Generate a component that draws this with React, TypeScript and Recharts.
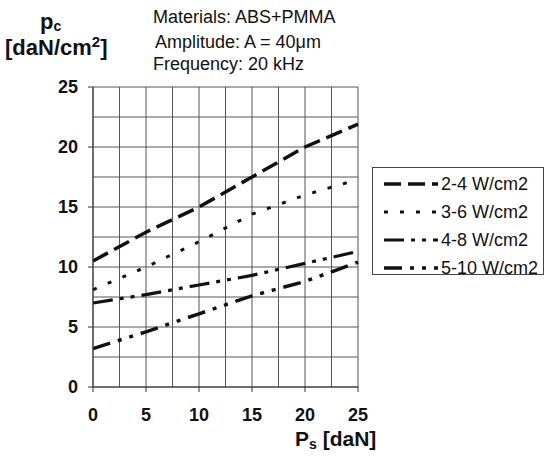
import React from "react";
import { LineChart, Line, XAxis, YAxis, CartesianGrid, ReferenceLine, Legend } from "recharts";

const xValues = [0, 5, 10, 15, 20, 25];
const s24 = [10.5, 12.9, 15.0, 17.5, 20.0, 21.9];
const s36 = [8.1, 10.0, 12.1, 14.4, 16.0, 17.3];
const s48 = [7.0, 7.7, 8.5, 9.3, 10.3, 11.3];
const s510 = [3.2, 4.6, 6.1, 7.6, 8.8, 10.4];
const seriesNames = ["2-4 W/cm2", "3-6 W/cm2", "4-8 W/cm2", "5-10 W/cm2"];
const majorTicks = [0, 5, 10, 15, 20, 25];
const minorTicks = [2.5, 7.5, 12.5, 17.5, 22.5];
const titleLines = ["Materials: ABS+PMMA", "Amplitude: A = 40\u03bcm", "Frequency: 20 kHz"];

const data = xValues.map((x, i) => ({ x, a: s24[i], b: s36[i], c: s48[i], d: s510[i] }));

const seriesDefs = [
  { key: "a", name: seriesNames[0], dash: "17 7", width: 3.5 },
  { key: "b", name: seriesNames[1], dash: "4 12", width: 3 },
  { key: "c", name: seriesNames[2], dash: "20 7 4 7 4 7", width: 3.2 },
  { key: "d", name: seriesNames[3], dash: "18 8 4 8 4 8", width: 3.5 },
];

const FONT = "'Liberation Sans', Arial, sans-serif";
const tickStyle = { fill: "#111", fontSize: 18, fontWeight: "bold" as const, fontFamily: FONT };
const GRID = "#555";

const LegendBox = () => (
  <div
    style={{
      width: 172,
      height: 108,
      border: "1px solid #444",
      boxSizing: "border-box",
      paddingTop: 2,
      background: "#fff",
      fontFamily: FONT,
    }}
  >
    {seriesDefs.map((s) => (
      <div key={s.key} style={{ height: 28, display: "flex", alignItems: "center" }}>
        <svg width={68} height={28} style={{ flex: "none" }}>
          <line x1={11} y1={14} x2={65} y2={14} stroke="#111" strokeWidth={s.width} strokeDasharray={s.dash} />
        </svg>
        <span style={{ fontSize: 18, color: "#111", whiteSpace: "nowrap" }}>{s.name}</span>
      </div>
    ))}
  </div>
);

export default function App() {
  return (
    <div style={{ position: "absolute", left: 0, top: 0, width: 546, height: 457, background: "#fff", fontFamily: FONT }}>
      <LineChart width={546} height={457} data={data} margin={{ top: 87, right: 188, bottom: 40, left: 0 }}>
        <CartesianGrid stroke={GRID} strokeWidth={1} />
        {minorTicks.map((v) => (
          <ReferenceLine key={"vx" + v} x={v} stroke={GRID} strokeWidth={1} />
        ))}
        {minorTicks.map((v) => (
          <ReferenceLine key={"hy" + v} y={v} stroke={GRID} strokeWidth={1} />
        ))}
        <XAxis
          dataKey="x"
          type="number"
          domain={[0, 25]}
          ticks={majorTicks}
          height={30}
          tickSize={5}
          tickMargin={16}
          tick={tickStyle}
          stroke="#333"
          interval={0}
        />
        <YAxis
          type="number"
          domain={[0, 25]}
          ticks={majorTicks}
          width={93}
          tickSize={5}
          tickMargin={10}
          tick={tickStyle}
          stroke="#333"
          interval={0}
        />
        <Legend
          layout="horizontal"
          verticalAlign="middle"
          align="center"
          content={() => <LegendBox />}
          wrapperStyle={{ position: "absolute", left: 372, top: 167, width: 172, height: 108 }}
        />
        {seriesDefs.map((s) => (
          <Line
            key={s.key}
            dataKey={s.key}
            name={s.name}
            stroke="#111"
            strokeWidth={s.width}
            strokeDasharray={s.dash}
            dot={false}
            activeDot={false}
            isAnimationActive={false}
            type="linear"
          />
        ))}
      </LineChart>

      {titleLines.map((t, i) => (
        <div
          key={i}
          style={{
            position: "absolute",
            left: [153, 155, 153][i],
            top: [8, 33, 55][i],
            fontSize: 18,
            lineHeight: 1,
            color: "#111",
            whiteSpace: "nowrap",
          }}
        >
          {t}
        </div>
      ))}

      <div style={{ position: "absolute", left: 40, top: 11, fontSize: 22, fontWeight: "bold", lineHeight: 1, color: "#111", whiteSpace: "nowrap" }}>
        p<span style={{ fontSize: 14, position: "relative", top: 2 }}>c</span>
      </div>
      <div style={{ position: "absolute", left: 5, top: 37, fontSize: 22, fontWeight: "bold", lineHeight: 1, color: "#111", whiteSpace: "nowrap" }}>
        [daN/cm<span style={{ fontSize: 15, position: "relative", top: -8 }}>2</span>]
      </div>
      <div style={{ position: "absolute", left: 295, top: 428, fontSize: 21, fontWeight: "bold", lineHeight: 1, color: "#111", whiteSpace: "nowrap" }}>
        P<span style={{ fontSize: 14, position: "relative", top: 3 }}>s</span> [daN]
      </div>
    </div>
  );
}
